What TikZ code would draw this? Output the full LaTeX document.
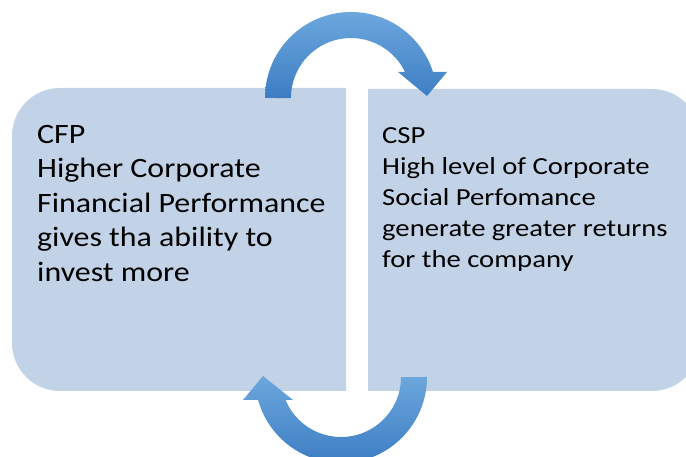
\documentclass[tikz,border=0pt]{standalone}
\usepackage{fontspec}
\setmainfont{Carlito}
\newfontfamily\widefont[FakeStretch=1.14]{Carlito}
\newfontfamily\widerfont[FakeStretch=1.17]{Carlito}
\usepackage{xcolor}
\usetikzlibrary{positioning,calc}

\definecolor{panelblue}{HTML}{C2D3E8}
\definecolor{arrowlight}{HTML}{6CA7DD}
\definecolor{arrowdark}{HTML}{3D7DC3}

\tikzset{
  panel/.style={fill=panelblue},
  cyclearrow/.style={top color=arrowlight, bottom color=arrowdark, draw=none},
  bigtext/.style={font=\widefont\fontsize{28}{34.5}\selectfont, align=left, inner sep=0pt},
  smalltext/.style={font=\widerfont\fontsize{24.5}{31}\selectfont, align=left, inner sep=0pt}
}

\begin{document}
\begin{tikzpicture}[x=1pt,y=1pt]

\useasboundingbox (0,0) rectangle (686,457);
\clip (0,0) rectangle (686,457);

\def\r{48} % corner radius of the panels

% Left panel: rounded on the outer (left) side only
\path[panel] (346,369) -- (60,369) arc[start angle=90, end angle=180, radius=\r]
  -- (12,114) arc[start angle=180, end angle=270, radius=\r] -- (346,66) -- cycle;

% Right panel: rounded on the outer (right) side only
\path[panel] (368,368) -- (652,368) arc[start angle=90, end angle=0, radius=\r]
  -- (700,114) arc[start angle=0, end angle=-90, radius=\r] -- (368,66) -- cycle;

% Texts of the two panels
\node[bigtext, anchor=north west] (cfp) at (37,332)
  {CFP\\Higher Corporate\\Financial Performance\\gives tha ability to\\invest more};
\node[smalltext, anchor=north west] (csp) at (382,330)
  {CSP\\High level of Corporate\\Social Perfomance\\generate greater returns\\for the company};

\def\Ro{86} % outer radius of the arrows
\def\Ri{60} % inner radius of the arrows

% Upper arrow, from CFP over to CSP
\coordinate (top) at (351,359);
\path[cyclearrow] ($(top)+(-\Ro,0)$) arc[start angle=180, end angle=17.6, radius=\Ro]
  -- (447,385) -- (427,361) -- (398,385) -- (405,385)
  arc[start angle=25.7, end angle=180, radius=\Ri] -- cycle;

% Lower arrow, from CSP back under to CFP
\coordinate (bot) at (341,80);
\path[cyclearrow] ($(bot)+(\Ro,0)$) arc[start angle=0, end angle=-164.5, radius=\Ro]
  -- (243,57) -- (263,81) -- (293,57) -- (285.6,57)
  arc[start angle=-157.5, end angle=0, radius=\Ri] -- cycle;

\end{tikzpicture}
\end{document}
